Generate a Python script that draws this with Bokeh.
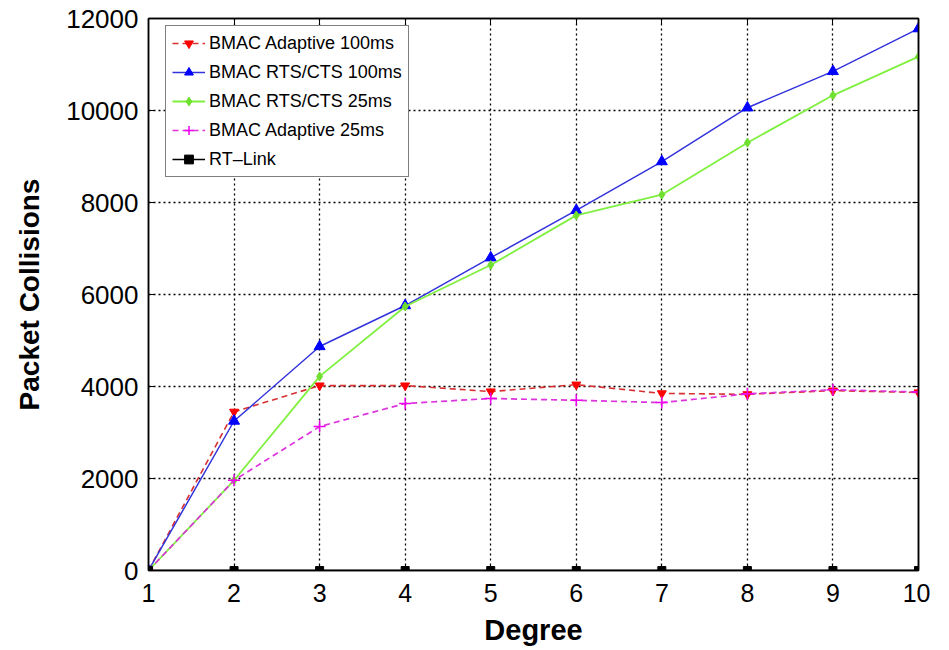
from bokeh.plotting import figure
from bokeh.models import Range1d, Legend, LegendItem, FixedTicker, LinearAxis, CustomJSTickFormatter
from bokeh.embed import file_html
from bokeh.resources import INLINE

degree = [1, 2, 3, 4, 5, 6, 7, 8, 9, 10]
bmac_adaptive_100 = [0, 3450, 4020, 4020, 3890, 4040, 3850, 3830, 3910, 3870]
bmac_rtscts_100 = [0, 3250, 4870, 5760, 6800, 7830, 8890, 10060, 10850, 11780]
bmac_rtscts_25 = [0, 1960, 4220, 5740, 6640, 7720, 8170, 9300, 10330, 11170]
bmac_adaptive_25 = [0, 1960, 3130, 3630, 3740, 3700, 3650, 3840, 3930, 3880]
rt_link = [0, 0, 0, 0, 0, 0, 0, 0, 0, 0]
y_ticks = [0, 2000, 4000, 6000, 8000, 10000, 12000]

p = figure(width=930, height=648, output_backend="svg", toolbar_location=None,
           x_range=Range1d(1, 10), y_range=Range1d(0, 12000),
           min_border_left=148, min_border_right=12, min_border_top=18, min_border_bottom=78)
p.background_fill_color = "white"
p.outline_line_color = "black"
p.outline_line_width = 1.5

for ax in (p.xaxis[0], p.yaxis[0]):
    ax.major_tick_in = 6
    ax.major_tick_out = 0
    ax.minor_tick_in = 0
    ax.minor_tick_out = 0
    ax.axis_line_color = "black"
    ax.axis_line_width = 1.5
    ax.major_label_text_font = "Liberation Sans"
    ax.major_label_text_color = "black"
    ax.axis_label_text_font = "Liberation Sans"
    ax.axis_label_text_font_style = "bold"
    ax.axis_label_text_color = "black"

p.xaxis.ticker = FixedTicker(ticks=degree)
p.yaxis.ticker = FixedTicker(ticks=y_ticks)
p.xaxis.axis_label = "Degree"
p.yaxis.axis_label = "Packet Collisions"
p.xaxis.major_label_text_font_size = "25px"
p.yaxis.major_label_text_font_size = "26px"
p.xaxis.axis_label_text_font_size = "29px"
p.yaxis.axis_label_text_font_size = "28px"
p.xaxis.major_label_standoff = 13
p.yaxis.major_label_standoff = 10
p.xaxis.axis_label_standoff = 9
p.yaxis.axis_label_standoff = 18

p.xgrid.ticker = FixedTicker(ticks=degree)
p.ygrid.ticker = FixedTicker(ticks=y_ticks)
for g in (p.xgrid[0], p.ygrid[0]):
    g.grid_line_color = "black"
    g.grid_line_width = 1.3
    g.grid_line_dash = "2 3"

blank = CustomJSTickFormatter(code="return '';")
ry = LinearAxis(ticker=FixedTicker(ticks=y_ticks), formatter=blank,
                major_tick_in=6, major_tick_out=0, minor_tick_in=0, minor_tick_out=0,
                axis_line_color="black", axis_line_width=1.5, major_label_standoff=0)
tx = LinearAxis(ticker=FixedTicker(ticks=degree), formatter=blank,
                major_tick_in=6, major_tick_out=0, minor_tick_in=0, minor_tick_out=0,
                axis_line_color="black", axis_line_width=1.5, major_label_standoff=0)
p.add_layout(ry, "right")
p.add_layout(tx, "above")

items = []
r1 = p.line(degree, bmac_adaptive_100, line_color="#d83030", line_width=1.6, line_dash="6 4")
m1 = p.scatter(degree, bmac_adaptive_100, marker="inverted_triangle", size=9,
               fill_color="#ff0000", line_color="#ff0000")
items.append(LegendItem(label="BMAC Adaptive 100ms", renderers=[r1, m1]))

r2 = p.line(degree, bmac_rtscts_100, line_color="#3333dd", line_width=1.5)
m2 = p.scatter(degree, bmac_rtscts_100, marker="triangle", size=11,
               fill_color="#0000ff", line_color="#0000ff")
items.append(LegendItem(label="BMAC RTS/CTS 100ms", renderers=[r2, m2]))

r3 = p.line(degree, bmac_rtscts_25, line_color="#80f040", line_width=1.8)
m3 = p.scatter(degree, bmac_rtscts_25, marker="diamond", size=9,
               fill_color="#70e030", line_color="#70e030")
items.append(LegendItem(label="BMAC RTS/CTS 25ms", renderers=[r3, m3]))

r4 = p.line(degree, bmac_adaptive_25, line_color="#dd33dd", line_width=1.7, line_dash="6 4")
m4 = p.scatter(degree, bmac_adaptive_25, marker="cross", size=12,
               line_color="#ee00ee", line_width=1.5)
items.append(LegendItem(label="BMAC Adaptive 25ms", renderers=[r4, m4]))

r5 = p.line(degree, rt_link, line_color="black", line_width=1.5)
m5 = p.scatter(degree, rt_link, marker="square", size=8,
               fill_color="black", line_color="black")
items.append(LegendItem(label="RT\u2013Link", renderers=[r5, m5]))

legend = Legend(items=items, location=(17, 393))
legend.label_text_font = "Liberation Sans"
legend.label_text_font_size = "18px"
legend.label_text_color = "black"
legend.border_line_color = "black"
legend.border_line_width = 1.5
legend.background_fill_alpha = 1.0
legend.glyph_width = 33
legend.glyph_height = 22
legend.label_height = 22
legend.spacing = 7
legend.padding = 6
legend.margin = 0
legend.label_standoff = 4
p.add_layout(legend)

open("out.html", "w").write(file_html(p, INLINE))
